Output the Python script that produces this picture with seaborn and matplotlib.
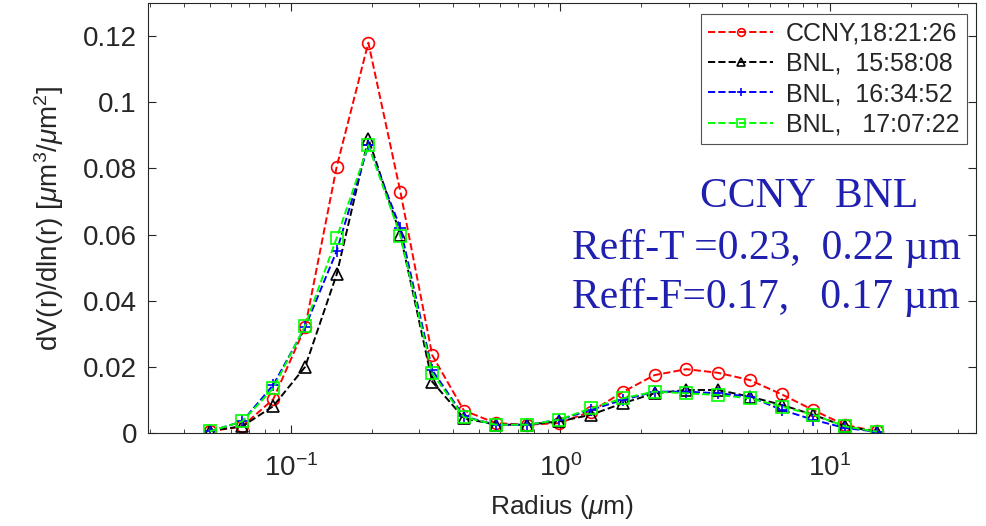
import numpy as np
import pandas as pd
import matplotlib
matplotlib.use("Agg")
import matplotlib.pyplot as plt
import seaborn as sns

radius = [0.050, 0.066, 0.086, 0.113, 0.148, 0.194, 0.255, 0.335, 0.439, 0.576, 0.756,
          0.992, 1.302, 1.708, 2.241, 2.940, 3.857, 5.061, 6.641, 8.713, 11.432, 15.000]

ccny_182126 = [0.0005, 0.002, 0.0102, 0.032, 0.0805, 0.118, 0.073, 0.0235, 0.0068, 0.003, 0.0025,
               0.003, 0.0065, 0.0124, 0.0175, 0.0193, 0.0182, 0.016, 0.0117, 0.0069, 0.0024, 0.0005]
bnl_155808 = [0.0007, 0.002, 0.0081, 0.020, 0.048, 0.089, 0.060, 0.0155, 0.0045, 0.0025, 0.0025,
              0.0035, 0.0055, 0.009, 0.012, 0.013, 0.013, 0.011, 0.0085, 0.0055, 0.002, 0.0004]
bnl_163452 = [0.0005, 0.0035, 0.0145, 0.032, 0.055, 0.087, 0.062, 0.019, 0.005, 0.0025, 0.0025,
              0.004, 0.007, 0.010, 0.0125, 0.0125, 0.012, 0.011, 0.007, 0.004, 0.0015, 0.0004]
bnl_170722 = [0.0005, 0.0035, 0.0135, 0.0325, 0.059, 0.087, 0.0597, 0.018, 0.0048, 0.0025, 0.0025,
              0.004, 0.0075, 0.0105, 0.0125, 0.012, 0.0115, 0.0105, 0.008, 0.0055, 0.002, 0.0004]

labels = ["CCNY,18:21:26", "BNL,  15:58:08", "BNL,  16:34:52", "BNL,   17:07:22"]
series = [ccny_182126, bnl_155808, bnl_163452, bnl_170722]
colors = ["#FF0000", "#000000", "#0000FF", "#00FF00"]
markers = ["o", "^", "+", "s"]

y_ticks = [0, 0.02, 0.04, 0.06, 0.08, 0.1, 0.12]
y_ticklabels = ["0", "0.02", "0.04", "0.06", "0.08", "0.1", "0.12"]

sns.set_theme(style="ticks")
plt.rcParams['font.family'] = ['Liberation Sans', 'DejaVu Sans']
plt.rcParams['mathtext.fontset'] = 'custom'
plt.rcParams['mathtext.it'] = 'Liberation Sans:italic'
plt.rcParams['mathtext.rm'] = 'Liberation Sans'

fig = plt.figure(figsize=(9.87, 5.26), dpi=100)
ax = fig.add_axes([0.150, 1 - 433 / 526, 828 / 987, 430 / 526])

for lab, vals, c, m in zip(labels, series, colors, markers):
    sns.lineplot(x=radius, y=vals, ax=ax, color=c, marker=m, linestyle="--",
                 linewidth=1.4, markersize=8.5, mfc="none", mec=c, mew=1.2,
                 label=lab, estimator=None, sort=False)

ax.set_xscale("log")
ax.set_xlim(0.0295, 35)
ax.set_ylim(0, 0.13)
ax.set_yticks(y_ticks)
ax.set_yticklabels(y_ticklabels)
ax.set_xticks([0.1, 1, 10])
ax.set_xticklabels(["$10^{-1}$", "$10^{0}$", "$10^{1}$"])

ax.tick_params(which="both", direction="in", top=True, right=True, colors="#262626",
               labelcolor="#262626")
ax.tick_params(which="major", length=6, width=0.8, labelsize=20)
ax.tick_params(axis="y", which="major", pad=8)
ax.tick_params(axis="x", which="major", pad=15)
ax.tick_params(which="minor", length=3, width=0.6)
for s in ax.spines.values():
    s.set_color("#262626")
    s.set_linewidth(0.8)

ax.set_xlabel(r"Radius ($\mu$m)", fontsize=19, color="#262626", labelpad=8)
ax.set_ylabel(r"dV(r)/dln(r) [$\mu$m$^3$/$\mu$m$^2$]", fontsize=20, color="#262626", labelpad=12)

leg = ax.legend(loc="upper right", fontsize=18, frameon=True, fancybox=False,
                edgecolor="#262626", handlelength=2.6, borderpad=0.3, labelspacing=0.25,
                handletextpad=0.5, borderaxespad=0, bbox_to_anchor=(0.989, 0.974),
                markerscale=0.65)
leg.get_frame().set_linewidth(0.8)

txt_color = "#2020B0"
serif = ['Liberation Serif', 'DejaVu Serif']
ax.text(0.7986, 0.5256, "CCNY  BNL", transform=ax.transAxes, ha="center", va="baseline",
        fontsize=30, color=txt_color, family=serif)
ax.text(0.5115, 0.4047, "Reff-T =0.23,  0.22 \u00b5m", transform=ax.transAxes, ha="left",
        va="baseline", fontsize=30, color=txt_color, family=serif)
ax.text(0.5115, 0.2907, "Reff-F=0.17,   0.17 \u00b5m", transform=ax.transAxes, ha="left",
        va="baseline", fontsize=30, color=txt_color, family=serif)

fig.savefig("out.png", dpi=100)
